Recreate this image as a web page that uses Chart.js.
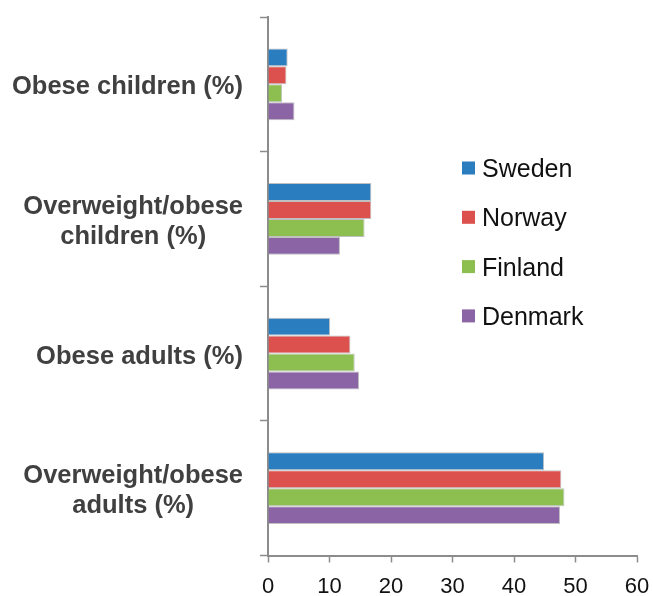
<!DOCTYPE html>
<html>
<head>
<meta charset="utf-8">
<title>Overweight and obesity</title>
<script src="https://cdn.jsdelivr.net/npm/chart.js@4/dist/chart.umd.min.js"></script>
<style>
    body { margin: 0; background: #ffffff; }
    #grafica { display: block; }
</style>
</head>
<body>
<canvas id="grafica" width="653" height="596"></canvas>
<script>
// categorias (cada una como lista de lineas)
const categorias = [
    ["Obese children (%)"],
    ["Overweight/obese", "children (%)"],
    ["Obese adults (%)"],
    ["Overweight/obese", "adults (%)"]
];
const paises = ["Sweden", "Norway", "Finland", "Denmark"];
const valoresSweden = [3.2, 16.8, 10.1, 44.9];
const valoresNorway = [3.0, 16.8, 13.4, 47.7];
const valoresFinland = [2.3, 15.7, 14.1, 48.2];
const valoresDenmark = [4.3, 11.7, 14.8, 47.5];
const ejeMin = 0;
const ejeMax = 60;
const ejePaso = 10;

const colores = ["#2a7dbf", "#dc504d", "#8dbe50", "#8a64a5"];
const series = [valoresSweden, valoresNorway, valoresFinland, valoresDenmark];

// etiquetas del eje y: bloque alineado a la derecha, lineas centradas
const etiquetasY = {
    id: "etiquetasY",
    afterDraw: (chart) => {
        const ctx = chart.ctx;
        const escalaY = chart.scales.y;
        const derecha = 243;
        const alto = 30;
        ctx.save();
        ctx.font = "bold 25.5px 'Liberation Sans', Arial, Helvetica, sans-serif";
        ctx.fillStyle = "#404040";
        ctx.textAlign = "center";
        ctx.textBaseline = "middle";
        chart.data.labels.forEach((lineas, i) => {
            const y = escalaY.getPixelForTick(i) + 3;
            let ancho = 0;
            lineas.forEach((l) => { ancho = Math.max(ancho, ctx.measureText(l).width); });
            const centroX = derecha - ancho / 2;
            lineas.forEach((l, j) => {
                ctx.fillText(l, centroX, y + (j - (lineas.length - 1) / 2) * alto);
            });
        });
        ctx.restore();
    }
};

// leyenda dentro del area del grafico
const leyenda = {
    id: "leyenda",
    afterDraw: (chart) => {
        const ctx = chart.ctx;
        ctx.save();
        ctx.font = "25px 'Liberation Sans', Arial, Helvetica, sans-serif";
        ctx.textAlign = "left";
        ctx.textBaseline = "alphabetic";
        chart.data.datasets.forEach((ds, i) => {
            const base = 177 + i * 49.3;
            ctx.fillStyle = ds.backgroundColor;
            ctx.fillRect(462, base - 15.5, 13, 13);
            ctx.fillStyle = "#111111";
            ctx.fillText(ds.label, 482, base);
        });
        ctx.restore();
    }
};

const contexto = document.getElementById("grafica").getContext("2d");
const grafico = new Chart(contexto, {
    type: "bar",
    data: {
        labels: categorias,
        datasets: paises.map((p, i) => ({
            label: p,
            data: series[i],
            backgroundColor: colores[i],
            borderColor: "rgba(150,150,150,0.6)",
            borderWidth: 1,
            categoryPercentage: 0.533,
            barPercentage: 1
        }))
    },
    options: {
        indexAxis: "y",
        responsive: false,
        animation: false,
        devicePixelRatio: 1,
        layout: { padding: { top: 17, right: 16, left: 0, bottom: 0 } },
        plugins: {
            legend: { display: false },
            tooltip: { enabled: false }
        },
        scales: {
            x: {
                min: ejeMin,
                max: ejeMax,
                ticks: {
                    stepSize: ejePaso,
                    padding: 11,
                    color: "#111111",
                    font: { size: 22, family: "'Liberation Sans', Arial, Helvetica, sans-serif" }
                },
                grid: {
                    drawOnChartArea: false,
                    tickLength: 7,
                    tickWidth: 1.5,
                    tickColor: "#8c8c8c"
                },
                border: { color: "#8c8c8c", width: 2 },
                afterFit: (escala) => {
                    escala.height = 40.5;
                    escala.paddingLeft = 0;
                    escala.paddingRight = 16;
                }
            },
            y: {
                ticks: { display: false },
                grid: {
                    drawOnChartArea: false,
                    offset: true,
                    tickLength: 8,
                    tickWidth: 1.5,
                    tickColor: "#8c8c8c"
                },
                border: { color: "#8c8c8c", width: 2 },
                afterFit: (escala) => { escala.width = 268; }
            }
        }
    },
    plugins: [etiquetasY, leyenda]
});
</script>
</body>
</html>
